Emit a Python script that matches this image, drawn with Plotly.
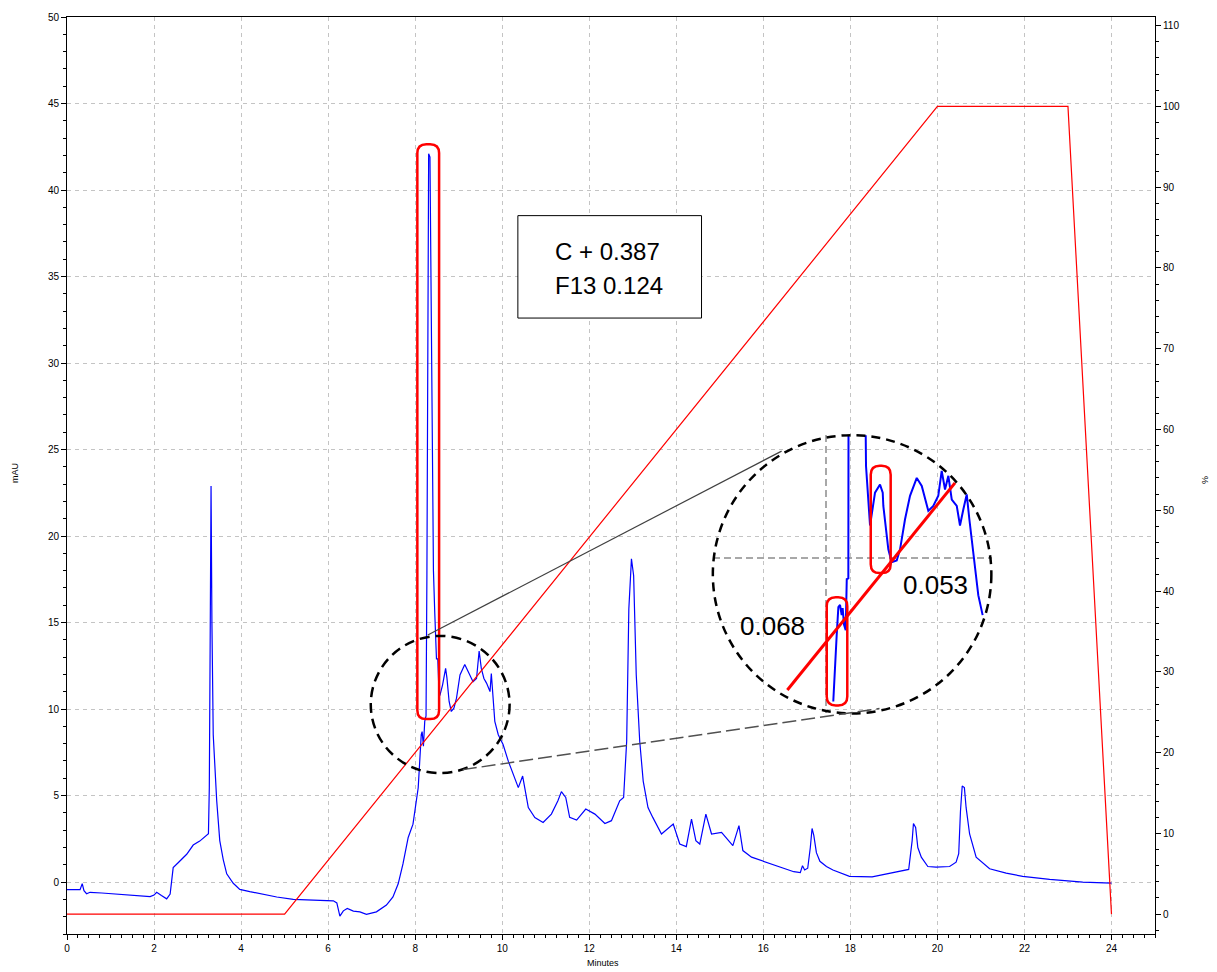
import plotly.graph_objects as go

# ---------------- data ----------------
# UV chromatogram (minutes, mAU)
time_min = [0.00, 0.30, 0.35, 0.39, 0.45, 0.53, 0.80, 1.14, 1.50, 1.91, 2.00, 2.06, 2.17, 2.29, 2.37,
            2.44, 2.56, 2.75, 2.90, 3.05, 3.25, 3.27, 3.29, 3.31, 3.33, 3.36, 3.44, 3.51, 3.59, 3.67,
            3.82, 3.97, 4.20, 4.82, 5.20, 6.12, 6.20, 6.27, 6.35, 6.44, 6.58, 6.73, 6.88, 7.11, 7.34,
            7.49, 7.61, 7.72, 7.84, 7.95, 8.07, 8.11, 8.14, 8.16, 8.19, 8.22, 8.25, 8.27, 8.29, 8.31,
            8.34, 8.36, 8.39, 8.42, 8.45, 8.49, 8.52, 8.55, 8.57, 8.63, 8.70, 8.73, 8.78, 8.83, 8.89,
            8.95, 9.03, 9.14, 9.22, 9.33, 9.41, 9.47, 9.52, 9.58, 9.64, 9.72, 9.75, 9.79, 9.83, 9.91,
            10.02, 10.14, 10.25, 10.37, 10.47, 10.52, 10.60, 10.75, 10.94, 11.13, 11.28, 11.36, 11.46,
            11.55, 11.71, 11.92, 12.13, 12.36, 12.51, 12.70, 12.79, 12.86, 12.91, 12.97, 13.02, 13.08,
            13.16, 13.24, 13.35, 13.46, 13.66, 13.93, 14.08, 14.23, 14.35, 14.45, 14.54, 14.68, 14.81,
            15.04, 15.30, 15.44, 15.53, 15.73, 15.90, 16.10, 16.40, 16.70, 16.85, 16.90, 16.95, 17.02,
            17.08, 17.12, 17.16, 17.22, 17.30, 17.45, 17.60, 17.80, 17.98, 18.50, 19.13, 19.34, 19.42,
            19.45, 19.50, 19.55, 19.63, 19.78, 19.97, 20.28, 20.43, 20.49, 20.53, 20.57, 20.62, 20.66,
            20.74, 20.89, 21.20, 21.58, 21.96, 22.58, 23.34, 24.00]
absorbance_mau = [-0.44, -0.44, -0.09, -0.50, -0.67, -0.59, -0.63, -0.69, -0.77, -0.84, -0.75, -0.59, -0.78, -0.97, -0.69,
                  0.84, 1.13, 1.61, 2.14, 2.37, 2.79, 5.45, 14.0, 22.9, 15.0, 8.52, 4.70, 2.40, 1.30, 0.48,
                  -0.07, -0.42, -0.55, -0.86, -1.00, -1.08, -1.20, -1.97, -1.66, -1.52, -1.68, -1.72, -1.86, -1.72, -1.33,
                  -0.86, -0.10, 1.05, 2.58, 3.35, 5.45, 7.60, 8.52, 8.70, 7.85, 9.29, 9.60, 17.78, 33.6, 42.1,
                  41.9, 34.3, 24.4, 18.0, 15.6, 12.9, 12.9, 10.8, 10.8, 11.4, 12.35, 11.8, 10.44, 9.86, 10.05,
                  10.63, 11.97, 12.58, 12.16, 11.58, 11.77, 13.35, 12.35, 11.77, 11.5, 11.01, 12.06, 10.82, 9.29, 8.52,
                  7.95, 6.99, 6.23, 5.46, 6.13, 5.46, 4.31, 3.73, 3.45, 3.93, 4.70, 5.23, 4.89,
                  3.74, 3.58, 4.22, 3.93, 3.39, 3.55, 4.70, 4.89, 8.14, 15.8, 18.68, 17.72, 11.98,
                  8.14, 5.84, 4.31, 3.74, 2.78, 3.35, 2.20, 2.05, 3.64, 2.39, 2.20, 3.93, 2.78,
                  2.87, 2.11, 3.26, 1.82, 1.44, 1.30, 1.10, 0.85, 0.60, 0.55, 0.95, 0.70, 0.80,
                  2.00, 3.10, 2.70, 1.70, 1.20, 0.90, 0.70, 0.50, 0.33, 0.30, 0.60, 0.73, 2.40,
                  3.39, 3.16, 2.00, 1.44, 0.90, 0.86, 0.90, 1.15, 1.65, 4.10, 5.55, 5.46, 4.30,
                  2.78, 1.44, 0.77, 0.52, 0.33, 0.16, 0.00, -0.06]

# Gradient program (% B)
grad_time = [0, 5, 20, 23, 24]
grad_pct = [0, 0, 100, 100, 0]

# Magnified view of the 8-10 min window
zoom_time = [8.083, 8.091, 8.122, 8.141, 8.160, 8.179, 8.190, 8.206, 8.225, 8.237, 8.255, 8.258,
             8.444, 8.457, 8.483, 8.503, 8.537, 8.560, 8.617, 8.648, 8.655, 8.674, 8.712, 8.750,
             8.808, 8.846, 8.903, 8.960, 9.037, 9.094, 9.169, 9.226, 9.283, 9.322, 9.360, 9.398,
             9.437, 9.494, 9.531, 9.569, 9.608, 9.638, 9.683, 9.740, 9.790]
zoom_mau = [5.91, 6.39, 7.81, 8.61, 8.67, 8.38, 8.58, 8.10, 7.95, 9.41, 9.43, 16.0,
            16.0, 12.64, 11.59, 10.94, 11.50, 11.88, 12.11, 11.88, 11.50, 11.02, 10.26, 9.89,
            9.94, 10.26, 11.12, 11.79, 12.30, 12.07, 11.36, 11.50, 11.79, 12.50, 11.97, 12.36,
            11.68, 11.50, 10.94, 11.40, 11.83, 11.12, 10.09, 8.95, 8.38]
zoom_grad_time = [7.558, 9.474]
zoom_grad_mau = [6.24, 12.16]

box_lines = ["C + 0.387", "F13 0.124"]
zoom_labels = ["0.068", "0.053"]

# ---------------- layout constants ----------------
W, H = 1217, 972
ML, MR, MT, MB = 67, 62, 11, 38
PW, PH = W - ML - MR, H - MT - MB
X_RANGE = [0, 25]
Y_RANGE = [-3, 50]
Y2_RANGE = [-2.46, 111.07]
FONT = "Liberation Sans, Arial, sans-serif"

px_per_min = PW / (X_RANGE[1] - X_RANGE[0])
px_per_mau = PH / (Y_RANGE[1] - Y_RANGE[0])

# inset axes (magnified view), domain in paper fractions
INSET_X_DOM = [0.5938, 0.8502]
INSET_Y_DOM = [0.2405, 0.5439]
INSET_X_RANGE = [6.709, 9.897]
INSET_Y_RANGE = [5.57, 13.52]
ipx_per_min = PW * (INSET_X_DOM[1] - INSET_X_DOM[0]) / (INSET_X_RANGE[1] - INSET_X_RANGE[0])
ipx_per_mau = PH * (INSET_Y_DOM[1] - INSET_Y_DOM[0]) / (INSET_Y_RANGE[1] - INSET_Y_RANGE[0])


def rounded_rect(x0, x1, y0, y1, rx, ry):
    return (f"M {x0 + rx},{y0} L {x1 - rx},{y0} Q {x1},{y0} {x1},{y0 + ry} "
            f"L {x1},{y1 - ry} Q {x1},{y1} {x1 - rx},{y1} L {x0 + rx},{y1} "
            f"Q {x0},{y1} {x0},{y1 - ry} L {x0},{y0 + ry} Q {x0},{y0} {x0 + rx},{y0} Z")


fig = go.Figure()

fig.add_trace(go.Scatter(x=time_min, y=absorbance_mau, mode="lines",
                         line=dict(color="#0000ff", width=1.2), xaxis="x", yaxis="y",
                         showlegend=False, hoverinfo="skip"))
fig.add_trace(go.Scatter(x=grad_time, y=grad_pct, mode="lines",
                         line=dict(color="#ff0000", width=1.2), xaxis="x", yaxis="y2",
                         showlegend=False, hoverinfo="skip"))

# magnified view
fig.add_trace(go.Scatter(x=zoom_time, y=zoom_mau, mode="lines",
                         line=dict(color="#0000ff", width=2), xaxis="x3", yaxis="y3",
                         showlegend=False, hoverinfo="skip"))
fig.add_trace(go.Scatter(x=zoom_grad_time, y=zoom_grad_mau, mode="lines",
                         line=dict(color="#ff0000", width=3), xaxis="x3", yaxis="y3",
                         showlegend=False, hoverinfo="skip"))

grid = dict(showgrid=True, gridcolor="#c4c4c4", gridwidth=1, griddash="4px,4px")
tickfont = dict(family=FONT, size=10, color="black")

shapes = []
# red marker around the main peak
r_px = 9
shapes.append(dict(type="path", xref="x", yref="y",
                   path=rounded_rect(8.05, 8.55, 9.42, 42.65, r_px / px_per_min, r_px / px_per_mau),
                   line=dict(color="#ff0000", width=2.5)))
# small dashed circle around the region of interest
shapes.append(dict(type="circle", xref="x", yref="y", x0=6.98, x1=10.17, y0=6.30, y1=14.23,
                   line=dict(color="black", width=2.5, dash="10px,6px")))
# large dashed circle (magnified view)
shapes.append(dict(type="circle", xref="x", yref="y", x0=14.84, x1=21.24, y0=9.75, y1=25.83,
                   line=dict(color="black", width=2.5, dash="9px,6px")))
# connector lines
shapes.append(dict(type="line", xref="x", yref="y", x0=8.29, y0=14.28, x1=16.42, y1=24.91,
                   line=dict(color="#404040", width=1.2)))
shapes.append(dict(type="line", xref="x", yref="y", x0=9.095, y0=6.50, x1=18.67, y1=10.03,
                   line=dict(color="#505050", width=1.5, dash="14px,5px")))
# text box
shapes.append(dict(type="rect", xref="x", yref="y", x0=10.36, x1=14.58, y0=32.60, y1=38.52,
                   line=dict(color="black", width=1), fillcolor="white"))
# red markers in the magnified view
shapes.append(dict(type="path", xref="x3", yref="y3",
                   path=rounded_rect(8.008, 8.243, 5.80, 8.89, r_px / ipx_per_min, r_px / ipx_per_mau),
                   line=dict(color="#ff0000", width=2.5)))
shapes.append(dict(type="path", xref="x3", yref="y3",
                   path=rounded_rect(8.511, 8.739, 9.58, 12.65, r_px / ipx_per_min, r_px / ipx_per_mau),
                   line=dict(color="#ff0000", width=2.5)))

annotations = [
    dict(text=box_lines[0], x=11.16, y=36.45, xref="x", yref="y", xanchor="left", yanchor="middle",
         showarrow=False, font=dict(family=FONT, size=24, color="black")),
    dict(text=box_lines[1], x=11.16, y=34.50, xref="x", yref="y", xanchor="left", yanchor="middle",
         showarrow=False, font=dict(family=FONT, size=24, color="black")),
    dict(text=zoom_labels[0], x=7.389, y=8.068, xref="x3", yref="y3", xanchor="center", yanchor="middle",
         showarrow=False, font=dict(family=FONT, size=26, color="black")),
    dict(text=zoom_labels[1], x=9.246, y=9.24, xref="x3", yref="y3", xanchor="center", yanchor="middle",
         showarrow=False, font=dict(family=FONT, size=26, color="black")),
    # axis titles
    dict(text="mAU", x=(15 - ML) / PW, y=(H - MB - 470) / PH, xref="paper", yref="paper",
         xanchor="center", yanchor="middle",
         textangle=-90, showarrow=False, font=dict(family=FONT, size=9, color="black")),
    dict(text="Minutes", x=(603 - ML) / PW, y=(H - MB - 963) / PH, xref="paper", yref="paper",
         xanchor="center", yanchor="middle",
         showarrow=False, font=dict(family=FONT, size=9, color="black")),
    dict(text="%", x=(1205 - ML) / PW, y=(H - MB - 477) / PH, xref="paper", yref="paper",
         xanchor="center", yanchor="middle",
         textangle=90, showarrow=False, font=dict(family=FONT, size=9, color="black")),
]

fig.update_layout(
    width=W, height=H,
    margin=dict(l=ML, r=MR, t=MT, b=MB, pad=0),
    paper_bgcolor="white", plot_bgcolor="rgba(0,0,0,0)",
    showlegend=False,
    xaxis=dict(range=X_RANGE, tick0=0, dtick=2, ticks="outside", ticklen=5, tickwidth=1,
               tickcolor="black", tickfont=tickfont, showline=True, linecolor="black", linewidth=1,
               mirror=True, zeroline=False,
               minor=dict(dtick=0.25, tick0=0, ticks="outside", ticklen=3, tickcolor="black", showgrid=False),
               **grid),
    yaxis=dict(range=Y_RANGE, tick0=0, dtick=5, ticks="outside", ticklen=5, tickwidth=1,
               tickcolor="black", tickfont=tickfont, showline=True, linecolor="black", linewidth=1,
               zeroline=False,
               minor=dict(dtick=1, tick0=0, ticks="outside", ticklen=3, tickcolor="black", showgrid=False),
               **grid),
    yaxis2=dict(range=Y2_RANGE, overlaying="y", side="right", tick0=0, dtick=10, ticks="outside",
                ticklen=5, tickwidth=1, tickcolor="black", tickfont=tickfont, showline=True,
                linecolor="black", linewidth=1, showgrid=False, zeroline=False,
                minor=dict(dtick=2, tick0=0, ticks="outside", ticklen=3, tickcolor="black")),
    xaxis3=dict(domain=INSET_X_DOM, anchor="y3", range=INSET_X_RANGE, tickvals=[8.0],
                showticklabels=False, ticks="", showline=False, zeroline=False,
                showgrid=True, gridcolor="#a8a8a8", gridwidth=2, griddash="7px,4px"),
    yaxis3=dict(domain=INSET_Y_DOM, anchor="x3", range=INSET_Y_RANGE, tickvals=[10],
                showticklabels=False, ticks="", showline=False, zeroline=False,
                showgrid=True, gridcolor="#a8a8a8", gridwidth=2, griddash="7px,4px"),
    shapes=shapes,
    annotations=annotations,
)

fig.write_html("out.html")
